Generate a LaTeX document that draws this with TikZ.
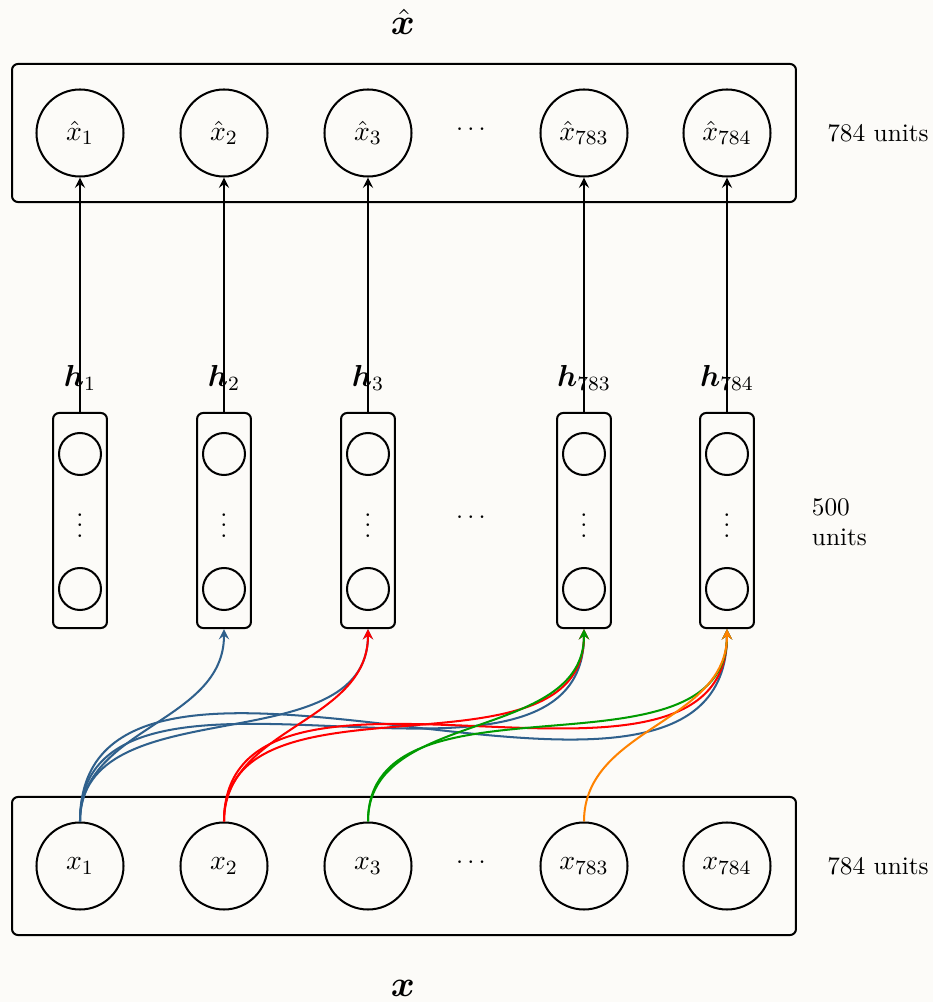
\documentclass[tikz,border=0pt]{standalone}
\usepackage{amsmath,bm}
\usetikzlibrary{arrows.meta}
\definecolor{paper}{RGB}{252,251,248}
\definecolor{linkblue}{RGB}{47,96,140}
\definecolor{linkred}{RGB}{255,0,0}
\definecolor{linkgreen}{RGB}{0,155,0}
\definecolor{linkorange}{RGB}{255,130,0}
\begin{document}
\begin{tikzpicture}[x=0.3953pt,y=0.3953pt,
  unit/.style={draw,circle,thick,minimum size=34.4pt,inner sep=0pt,font=\fontsize{11}{13}\selectfont},
  smallunit/.style={draw,circle,thick,minimum size=16.6pt,inner sep=0pt},
  layerbox/.style={draw,thick,rounded corners=2.4pt,minimum width=309.9pt,minimum height=54.6pt,inner sep=0pt},
  hidbox/.style={draw,thick,rounded corners=2.4pt,minimum width=21.3pt,minimum height=85pt,inner sep=0pt},
  link/.style={thick,-stealth},
  mask/.style={thick,-stealth,out=90,in=-90}]
\fill[paper] (0,0) rectangle (933,1002);
\useasboundingbox (0,0) rectangle (933,1002);

% output layer
\node[layerbox] (outbox) at (404,869) {};
\node[unit] (o1) at (80,869) {$\hat{x}_1$};
\node[unit] (o2) at (224,869) {$\hat{x}_2$};
\node[unit] (o3) at (368,869) {$\hat{x}_3$};
\node (odots) at (473,872) {$\cdots$};
\node[unit] (o783) at (584,869) {$\hat{x}_{783}$};
\node[unit] (o784) at (727,869) {$\hat{x}_{784}$};
\node (ounits) at (878,869) {784 units};
\node (olabel) at (403,980) {\Large $\hat{\bm{x}}$};

% input layer
\node[layerbox] (inbox) at (404,136) {};
\node[unit] (i1) at (80,136) {$x_1$};
\node[unit] (i2) at (224,136) {$x_2$};
\node[unit] (i3) at (368,136) {$x_3$};
\node (idots) at (473,139) {$\cdots$};
\node[unit] (i783) at (584,136) {$x_{783}$};
\node[unit] (i784) at (727,136) {$x_{784}$};
\node (iunits) at (878,136) {784 units};
\node (ilabel) at (403,14) {\Large $\bm{x}$};

% hidden layers
\foreach \n/\x/\s in {1/80/1,2/224/2,3/368/3,783/584/783,784/727/784}{
  \node[hidbox] (h\n) at (\x,481.5) {};
  \node[smallunit] (ht\n) at (\x,548) {};
  \node[smallunit] (hb\n) at (\x,413) {};
  \node (hd\n) at (\x,484) {$\vdots$};
  \node (hl\n) at (\x,624) {\large $\bm{h}_{\s}$};
  \draw[link] (h\n.north) -- (o\n.south);
}
\node (hdots) at (473,484) {$\cdots$};
\node[anchor=west,align=left] (hunits) at (803,480) {500\\units};

% masked connections from the inputs
\foreach \t in {2,3,783,784}
  \draw[mask,linkblue] (i1.north) to (h\t.south);
\foreach \t in {3,783,784}
  \draw[mask,linkred] (i2.north) to (h\t.south);
\foreach \t in {783,784}
  \draw[mask,linkgreen] (i3.north) to (h\t.south);
\draw[mask,linkorange] (i783.north) to (h784.south);
\end{tikzpicture}
\end{document}
